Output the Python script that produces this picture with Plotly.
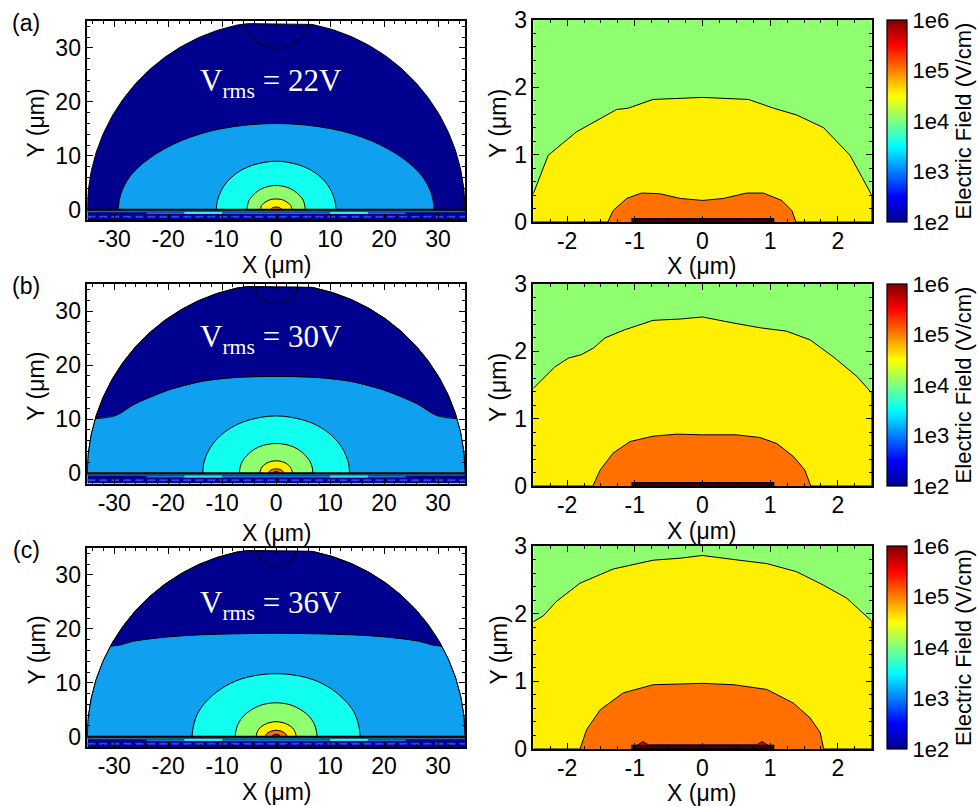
import numpy as np
import plotly.graph_objects as go

FONT = "Liberation Sans, Arial, sans-serif"
SERIF = "Liberation Serif, serif"

W, H = 977, 806
TICK_SIZE = 23
TITLE_SIZE = 23
CB_SIZE = 22

# ---------------------------------------------------------------- labels
PANEL_TAGS = ["(a)", "(b)", "(c)"]
VRMS_TEXT = ["22V", "30V", "36V"]
VRMS_Y = [23.5, 24.8, 24.5]

LEFT_XTICKS = [-30, -20, -10, 0, 10, 20, 30]
LEFT_XTEXT = ["-30", "-20", "-10", "0", "10", "20", "30"]
LEFT_YTICKS = [0, 10, 20, 30]
LEFT_YTEXT = ["0", "10", "20", "30"]
RIGHT_XTICKS = [-2, -1, 0, 1, 2]
RIGHT_XTEXT = ["-2", "-1", "0", "1", "2"]
RIGHT_YTICKS = [0, 1, 2, 3]
RIGHT_YTEXT = ["0", "1", "2", "3"]
CB_TICKS = [2, 3, 4, 5, 6]          # log10(E)
CB_TEXT = ["1e2", "1e3", "1e4", "1e5", "1e6"]

# ---------------------------------------------------------------- colours (field levels)
NAVY = "#00008F"
LIGHT_BLUE = "#0FA0F0"
CYAN = "#10FFEF"
GREEN = "#8FFF70"
YELLOW = "#FFEF00"
ORANGE = "#FF7000"
RED = "#E80000"
JET = [[0.0, "#00008F"], [0.125, "#0000FF"], [0.375, "#00FFFF"],
       [0.625, "#FFFF00"], [0.875, "#FF0000"], [1.0, "#800000"]]

# ---------------------------------------------------------------- far field (left column)
DOMAIN_R = 35.0          # simulation domain radius (um)
DOMAIN_TOP = 34.5
SUBSTRATE_BOTTOM = -1.9

# right halves of symmetric iso-field outlines, (x, y) in um, from the axis outward
A_BLUE = [(0, 16.0), (10.3, 15.0), (17.6, 12.8), (23.4, 9.6), (27.0, 6.3), (28.8, 2.9), (29.3, 0)]
A_CYAN = [(0, 9.0), (3.9, 8.4), (6.7, 7.2), (8.9, 5.4), (10.2, 3.5), (10.9, 1.6), (11.1, 0)]
A_GREEN = [(0, 4.5), (1.9, 4.2), (3.2, 3.6), (4.3, 2.7), (5.0, 1.8), (5.3, 0.8), (5.4, 0)]
A_YELLOW = [(0, 2.0), (1.0, 1.9), (1.7, 1.6), (2.3, 1.2), (2.7, 0.8), (2.85, 0.35), (2.9, 0)]
A_ORANGE = [(0, 0.5), (0.5, 0.43), (0.8, 0.3), (1.0, 0)]
A_DIP = [(0, 30.0), (2.5, 30.5), (4.5, 31.9), (5.6, 33.5), (6.0, DOMAIN_TOP)]

B_BLUE = [(0, 17.9), (7.5, 17.7), (13.7, 17.0), (19.9, 15.4), (26.0, 12.9), (29.7, 10.7), (33.5, 10.1)]
B_CYAN = [(0, 10.6), (4.8, 9.9), (8.2, 8.5), (10.9, 6.4), (12.5, 4.2), (13.4, 1.9), (13.6, 0)]
B_GREEN = [(0, 5.5), (2.4, 5.15), (4.1, 4.4), (5.4, 3.3), (6.3, 2.15), (6.7, 1.0), (6.8, 0)]
B_YELLOW = [(0, 2.3), (1.05, 2.15), (1.8, 1.84), (2.4, 1.38), (2.76, 0.9), (2.95, 0.4), (3.0, 0)]
B_ORANGE = [(0, 0.8), (0.7, 0.7), (1.1, 0.5), (1.3, 0.3), (1.4, 0)]
B_RED = [(0, 0.3), (0.4, 0.22), (0.6, 0)]
B_DIP = [(0, 31.4), (2.0, 31.8), (3.3, 32.8), (4.0, DOMAIN_TOP)]

C_BLUE = [(0, 19.2), (7.0, 19.1), (14.1, 18.9), (20.3, 18.5), (26.5, 17.7), (29.0, 17.0), (30.7, 16.8)]
C_CYAN = [(0, 11.7), (5.5, 11.0), (9.4, 9.4), (12.5, 7.0), (14.4, 4.6), (15.3, 2.1), (15.6, 0)]
C_GREEN = [(0, 6.3), (2.7, 5.9), (4.6, 5.0), (6.1, 3.8), (7.0, 2.5), (7.45, 1.1), (7.6, 0)]
C_YELLOW = [(0, 2.8), (1.3, 2.6), (2.2, 2.24), (3.0, 1.68), (3.4, 1.1), (3.63, 0.5), (3.7, 0)]
C_ORANGE = [(0, 1.2), (0.9, 1.05), (1.5, 0.75), (1.85, 0.45), (2.0, 0)]
C_RED = [(0, 0.45), (0.5, 0.35), (0.8, 0)]
C_DIP = [(0, 31.7), (1.8, 32.1), (3.0, 33.1), (3.6, DOMAIN_TOP)]

FAR_BLUE = [A_BLUE, B_BLUE, C_BLUE]
FAR_BLUE_CLOSED = [True, False, False]   # (a) closes on the axis, (b),(c) meet the domain edge
FAR_INNER = [
    [(A_CYAN, CYAN), (A_GREEN, GREEN), (A_YELLOW, YELLOW), (A_ORANGE, ORANGE)],
    [(B_CYAN, CYAN), (B_GREEN, GREEN), (B_YELLOW, YELLOW), (B_ORANGE, ORANGE), (B_RED, RED)],
    [(C_CYAN, CYAN), (C_GREEN, GREEN), (C_YELLOW, YELLOW), (C_ORANGE, ORANGE), (C_RED, RED)],
]
FAR_DIP = [A_DIP, B_DIP, C_DIP]

# ---------------------------------------------------------------- near field (right column)
RA_YELLOW = [(-2.5, 0.42), (-2.28, 0.99), (-1.86, 1.34), (-1.27, 1.67), (-1.10, 1.69), (-0.73, 1.82),
             (0.0, 1.85), (0.68, 1.82), (1.05, 1.69), (1.39, 1.59), (1.79, 1.40), (2.18, 0.99), (2.5, 0.40)]
RA_ORANGE = [(-1.40, 0), (-1.32, 0.17), (-1.12, 0.35), (-0.90, 0.43), (-0.63, 0.42), (-0.33, 0.35), (0, 0.32),
             (0.31, 0.35), (0.65, 0.43), (0.90, 0.43), (1.17, 0.32), (1.32, 0.17), (1.38, 0)]
RB_YELLOW = [(-2.5, 1.45), (-2.18, 1.77), (-1.98, 1.90), (-1.79, 1.95), (-1.61, 2.05), (-1.44, 2.20),
             (-1.15, 2.32), (-0.73, 2.46), (-0.33, 2.48), (0, 2.51), (0.46, 2.42), (0.85, 2.35), (1.24, 2.30),
             (1.59, 2.17), (1.93, 1.92), (2.28, 1.63), (2.5, 1.38)]
RB_ORANGE = [(-1.62, 0), (-1.51, 0.24), (-1.32, 0.49), (-1.07, 0.66), (-0.73, 0.74), (-0.38, 0.77), (0, 0.76),
             (0.50, 0.76), (0.85, 0.72), (1.10, 0.63), (1.34, 0.44), (1.51, 0.24), (1.60, 0)]
RC_YELLOW = [(-2.5, 1.88), (-2.35, 1.97), (-2.16, 2.18), (-1.81, 2.45), (-1.32, 2.66), (-0.73, 2.79),
             (-0.33, 2.82), (0, 2.86), (0.46, 2.80), (0.95, 2.74), (1.39, 2.62), (1.79, 2.42), (2.13, 2.23),
             (2.5, 1.89)]
RC_ORANGE = [(-1.81, 0), (-1.71, 0.29), (-1.51, 0.58), (-1.17, 0.83), (-0.73, 0.95), (0, 0.97), (0.46, 0.95),
             (0.95, 0.88), (1.34, 0.68), (1.59, 0.46), (1.74, 0.24), (1.79, 0)]
RC_RED = [(-1.05, 0.0), (-0.95, 0.06), (-0.88, 0.11), (-0.80, 0.06), (0.80, 0.06), (0.88, 0.11),
          (0.95, 0.06), (1.05, 0.0)]

NEAR_YELLOW = [RA_YELLOW, RB_YELLOW, RC_YELLOW]
NEAR_ORANGE = [RA_ORANGE, RB_ORANGE, RC_ORANGE]
NEAR_RED = [None, None, RC_RED]
ELECTRODE_X = (-1.05, 1.05)
ELECTRODE_T = 0.05
NEAR_XR = (-2.5, 2.5)
NEAR_YR = (0, 3)

# ---------------------------------------------------------------- layout geometry
LEFT_XDOM = [87.3 / W, 465 / W]
RIGHT_XDOM = [533.3 / W, 871.7 / W]
LEFT_ROWS_PX = [(21, 220), (284, 483.5), (548, 747)]
RIGHT_ROWS_PX = [(20, 222), (284, 486), (546, 749)]
XTITLE_PX = [265, 533, 792]
RXTITLE_PX = [266, 531, 793]


def ydom(px):
    return [1 - px[1] / H, 1 - px[0] / H]


def mirror(half):
    xs = [-p[0] for p in reversed(half)] + [p[0] for p in half[1:]]
    ys = [p[1] for p in reversed(half)] + [p[1] for p in half[1:]]
    return xs, ys


def circle_arc(a0, a1, n=60):
    t = np.linspace(a0, a1, n)
    return list(DOMAIN_R * np.cos(t)), list(np.minimum(DOMAIN_R * np.sin(t), DOMAIN_TOP))


def poly(xs, ys, color, xa, ya, line=True, shape="linear", width=1):
    return go.Scatter(x=xs, y=ys, fill="toself", fillcolor=color, mode="lines",
                      line=dict(color="black" if line else color, width=width if line else 0, shape=shape),
                      xaxis=xa, yaxis=ya, hoverinfo="skip", showlegend=False)


def paper_text(px, py, text, size, angle=0):
    return dict(x=px / W, y=1 - py / H, xref="paper", yref="paper", xanchor="center", yanchor="middle",
                showarrow=False, textangle=angle, text=text,
                font=dict(family=FONT, size=size, color="black"))


fig = go.Figure()
layout_axes = {}


def axis(rng, tv, tt, minor_dtick, domain, anchor, standoff=0):
    return dict(range=rng, domain=domain, anchor=anchor, tickmode="array", tickvals=tv, ticktext=tt,
                ticks="inside", ticklen=6, tickwidth=1.2, tickcolor="black", mirror="ticks",
                showline=True, linecolor="black", linewidth=1.5, showgrid=False, zeroline=False,
                ticklabelstandoff=standoff,
                minor=dict(tickmode="linear", tick0=0, dtick=minor_dtick, ticks="inside", ticklen=3,
                           tickwidth=1, tickcolor="black", showgrid=False),
                tickfont=dict(family=FONT, size=TICK_SIZE, color="black"), automargin=False)


annotations = []
for r in range(3):
    li, ri = 2 * r + 1, 2 * r + 2
    lx, ly = ("x" if li == 1 else f"x{li}"), ("y" if li == 1 else f"y{li}")
    rx, ry = f"x{ri}", f"y{ri}"

    # ---- far field
    xs, ys = circle_arc(np.pi, 0, 240)
    fig.add_trace(poly(xs, ys, NAVY, lx, ly))
    dx, dy = mirror(FAR_DIP[r])
    fig.add_trace(go.Scatter(x=dx, y=dy, mode="lines", line=dict(color="black", width=1, shape="spline"),
                             xaxis=lx, yaxis=ly, hoverinfo="skip", showlegend=False))
    bx, by = mirror(FAR_BLUE[r])
    if FAR_BLUE_CLOSED[r]:
        fig.add_trace(poly(bx, by, LIGHT_BLUE, lx, ly, shape="spline"))
    else:
        xe, ye = FAR_BLUE[r][-1]
        th = np.arctan2(ye, xe)
        lxs, lys = circle_arc(np.pi, np.pi - th, 40)
        rxs, rys = circle_arc(th, 0, 40)
        fig.add_trace(poly(lxs + bx + rxs, lys + by + rys, LIGHT_BLUE, lx, ly, line=False))
        fig.add_trace(go.Scatter(x=bx, y=by, mode="lines", line=dict(color="black", width=1, shape="spline"),
                                 xaxis=lx, yaxis=ly, hoverinfo="skip", showlegend=False))
        xs, ys = circle_arc(np.pi, 0, 240)
        fig.add_trace(go.Scatter(x=xs, y=ys, mode="lines", line=dict(color="black", width=1),
                                 xaxis=lx, yaxis=ly, hoverinfo="skip", showlegend=False))
    for half, col in FAR_INNER[r]:
        cx, cy = mirror(half)
        fig.add_trace(poly(cx, cy, col, lx, ly, shape="spline"))

    # substrate below the surface
    fig.add_trace(poly([-DOMAIN_R, DOMAIN_R, DOMAIN_R, -DOMAIN_R], [0, 0, SUBSTRATE_BOTTOM, SUBSTRATE_BOTTOM],
                       NAVY, lx, ly, line=False))
    fig.add_trace(poly([-DOMAIN_R, DOMAIN_R, DOMAIN_R, -DOMAIN_R], [-0.05, -0.05, -0.45, -0.45],
                       "#1C6A94", lx, ly, line=False))
    fig.add_trace(poly([-24, 24, 24, -24], [-0.5, -0.5, -0.8, -0.8], "#1478D8", lx, ly, line=False))
    for seg in ([-17, -10], [10, 17]):
        fig.add_trace(go.Scatter(x=seg, y=[-0.6, -0.6], mode="lines", line=dict(color="#30E8F0", width=2),
                                 xaxis=lx, yaxis=ly, hoverinfo="skip", showlegend=False))
    fig.add_trace(go.Scatter(x=[-DOMAIN_R, DOMAIN_R], y=[-1.3, -1.3], mode="lines",
                             line=dict(color="#2848E8", width=2, dash="8px,4px"),
                             xaxis=lx, yaxis=ly, hoverinfo="skip", showlegend=False))
    fig.add_trace(go.Scatter(x=[-DOMAIN_R, DOMAIN_R], y=[0, 0], mode="lines", line=dict(color="black", width=2),
                             xaxis=lx, yaxis=ly, hoverinfo="skip", showlegend=False))

    # ---- near field
    fig.add_trace(poly([NEAR_XR[0], NEAR_XR[1], NEAR_XR[1], NEAR_XR[0]],
                       [NEAR_YR[0], NEAR_YR[0], NEAR_YR[1], NEAR_YR[1]], GREEN, rx, ry, line=False))
    yl = NEAR_YELLOW[r]
    fig.add_trace(poly([p[0] for p in yl] + [NEAR_XR[1], NEAR_XR[0]], [p[1] for p in yl] + [0, 0],
                       YELLOW, rx, ry))
    ol = NEAR_ORANGE[r]
    fig.add_trace(poly([p[0] for p in ol], [p[1] for p in ol], ORANGE, rx, ry))
    if NEAR_RED[r] is not None:
        rl = NEAR_RED[r]
        fig.add_trace(poly([p[0] for p in rl], [p[1] for p in rl], RED, rx, ry))
    fig.add_trace(poly([ELECTRODE_X[0], ELECTRODE_X[1], ELECTRODE_X[1], ELECTRODE_X[0]],
                       [0, 0, ELECTRODE_T, ELECTRODE_T], "#500000", rx, ry, width=1.5))

    # colour bar
    top, bot = RIGHT_ROWS_PX[r]
    fig.add_trace(go.Scatter(
        x=[None, None], y=[None, None], mode="markers", xaxis=rx, yaxis=ry, hoverinfo="skip", showlegend=False,
        marker=dict(color=[CB_TICKS[0], CB_TICKS[-1]], cmin=CB_TICKS[0], cmax=CB_TICKS[-1], colorscale=JET,
                    showscale=True,
                    colorbar=dict(x=887 / W, xanchor="left", y=1 - (top + bot) / 2 / H, yanchor="middle",
                                  len=(bot - top) / H, lenmode="fraction", thickness=20, xpad=0, ypad=0,
                                  outlinewidth=1.2, outlinecolor="black", tickmode="array",
                                  tickvals=CB_TICKS, ticktext=CB_TEXT, ticks="",
                                  tickfont=dict(family=FONT, size=CB_SIZE, color="black"),
                                  title=dict(text="Electric Field (V/cm)", side="right",
                                             font=dict(family=FONT, size=CB_SIZE, color="black"))))))

    # axes
    lname = "xaxis" if li == 1 else f"xaxis{li}"
    lyname = "yaxis" if li == 1 else f"yaxis{li}"
    layout_axes[lname] = axis([-35, 35], LEFT_XTICKS, LEFT_XTEXT, 2, LEFT_XDOM, ly, standoff=-2)
    layout_axes[lyname] = axis([SUBSTRATE_BOTTOM, 35], LEFT_YTICKS, LEFT_YTEXT, 2, ydom(LEFT_ROWS_PX[r]), lx)
    layout_axes[f"xaxis{ri}"] = axis(list(NEAR_XR), RIGHT_XTICKS, RIGHT_XTEXT, 0.25, RIGHT_XDOM, ry, standoff=-2)
    layout_axes[f"yaxis{ri}"] = axis(list(NEAR_YR), RIGHT_YTICKS, RIGHT_YTEXT, 0.2, ydom(RIGHT_ROWS_PX[r]), rx)

    # text
    annotations.append(dict(x=-1, y=VRMS_Y[r], xref=lx, yref=ly, xanchor="center", yanchor="middle",
                            showarrow=False, text=f"V<sub>rms</sub> = {VRMS_TEXT[r]}",
                            font=dict(family=SERIF, size=31, color="white")))
    ltop, lbot = LEFT_ROWS_PX[r]
    rtop, rbot = RIGHT_ROWS_PX[r]
    annotations.append(paper_text(26, ltop + 2, PANEL_TAGS[r], TITLE_SIZE))
    annotations.append(paper_text(276.2, XTITLE_PX[r], "X (\u03bcm)", TITLE_SIZE))
    annotations.append(paper_text(701.7, RXTITLE_PX[r], "X (\u03bcm)", TITLE_SIZE))
    annotations.append(paper_text(36, (ltop + lbot) / 2 + 3, "Y (\u03bcm)", TITLE_SIZE, -90))
    annotations.append(paper_text(498, (rtop + rbot) / 2 + 3, "Y (\u03bcm)", TITLE_SIZE, -90))

fig.update_layout(width=W, height=H, margin=dict(l=0, r=0, t=0, b=0), paper_bgcolor="white",
                  plot_bgcolor="white", showlegend=False, annotations=annotations, **layout_axes)

fig.write_html("out.html")
